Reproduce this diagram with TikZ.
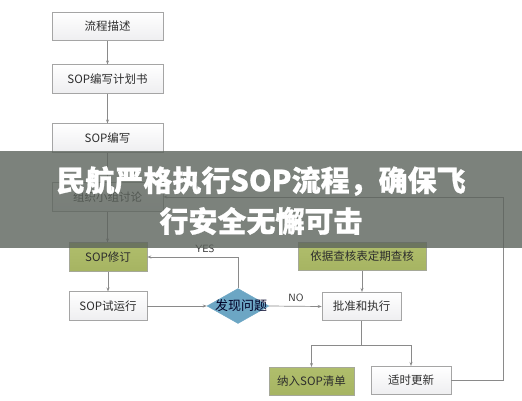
\documentclass[tikz,border=0pt]{standalone}
\usepackage{fontspec}
\newfontfamily\cjk{Noto Sans CJK SC}
\newfontfamily\cjkt{Noto Sans CJK SC}[BoldFeatures={FakeBold=0.8}]
\usetikzlibrary{arrows.meta,shapes.geometric}
\definecolor{lc}{RGB}{138,138,138}
\definecolor{bc}{RGB}{165,165,165}
\definecolor{boxbot}{RGB}{238,238,240}
\definecolor{grn}{RGB}{166,180,98}
\definecolor{grntop}{RGB}{176,190,108}
\definecolor{dia}{RGB}{108,166,196}
\definecolor{txt}{RGB}{45,45,45}
\definecolor{band}{RGB}{92,99,92}
\begin{document}
\begin{tikzpicture}[x=1pt,y=-1pt,
  every node/.style={font=\cjk\fontsize{11.5}{13}\selectfont, text=txt, inner sep=0pt},
  wbox/.style={draw=bc, line width=0.6pt, top color=white, bottom color=boxbot, minimum height=28.5pt},
  gbox/.style={draw=bc!80!grn, line width=0.6pt, top color=grntop, bottom color=grn, minimum height=28.5pt},
  conn/.style={draw=lc, line width=0.7pt},
  arr/.style={conn, -{Stealth[length=4pt,width=3pt]}},
  lbl/.style={font=\sffamily\fontsize{10.5}{12}\selectfont, text=txt},
  ttl/.style={font=\cjkt\bfseries\fontsize{29}{34}\selectfont, text=white}]
\useasboundingbox[fill=white] (0,0) rectangle (522,400);

\node[wbox, minimum width=111pt] (n1) at (107.5,26.5) {流程描述};
\node[wbox, minimum width=111pt] (n2) at (107.5,79) {SOP编写计划书};
\node[wbox, minimum width=111pt] (n3) at (107.5,138) {SOP编写};
\node[wbox, minimum width=111pt] (n4) at (107.5,197) {组织小组讨论};
\node[gbox, minimum width=78pt] (n5) at (108,257) {SOP修订};
\node[wbox, minimum width=78pt] (n6) at (108,306) {SOP试运行};
\node[diamond, fill=dia, draw=dia, minimum width=62pt, minimum height=35pt] (d) at (238,306) {};
\node[font=\cjk\fontsize{13}{15}\selectfont, text=black!85!blue] (dl) at (241,306) {发现问题};
\node[gbox, minimum width=128pt] (n7) at (362,256.5) {依据查核表定期查核};
\node[wbox, minimum width=79pt] (n8) at (361.5,306.5) {批准和执行};
\node[gbox, minimum width=85pt] (n9) at (311.5,381.5) {纳入SOP清单};
\node[wbox, minimum width=80pt] (n10) at (411,380.5) {适时更新};

\draw[arr] (n1) -- (n2);
\draw[arr] (n2) -- (n3);
\draw[arr] (n3) -- (n4);
\draw[arr] (n4.south) -- (n4.south |- n5.north);
\draw[arr] (n5) -- (n6);
\draw[arr] (n6) -- (d);
\draw[arr] (d.north) |- (n5.east);
\draw[arr] (d.east) -- (n8.west);
\draw[arr] (n7.south) -- (n7.south |- n8.north);
\coordinate (j) at (361.5,345);
\draw[conn] (n8.south) -- (j);
\draw[arr] (j) -| (n9.north);
\draw[arr] (j) -| (n10.north);
\coordinate (rc) at (503,0);
\draw[arr] (n10.east) -| (rc |- n4.east) -- (n4.east);

\node[lbl] (yes) at (205,249) {YES};
\node[lbl] (no) at (296,298) {NO};

\fill[band, opacity=0.8] (0,151) rectangle (522,248);
\node[ttl] (t1) at (261,181) {民航严格执行SOP流程，确保飞};
\node[ttl] (t2) at (261,221) {行安全无懈可击};
\end{tikzpicture}
\end{document}
